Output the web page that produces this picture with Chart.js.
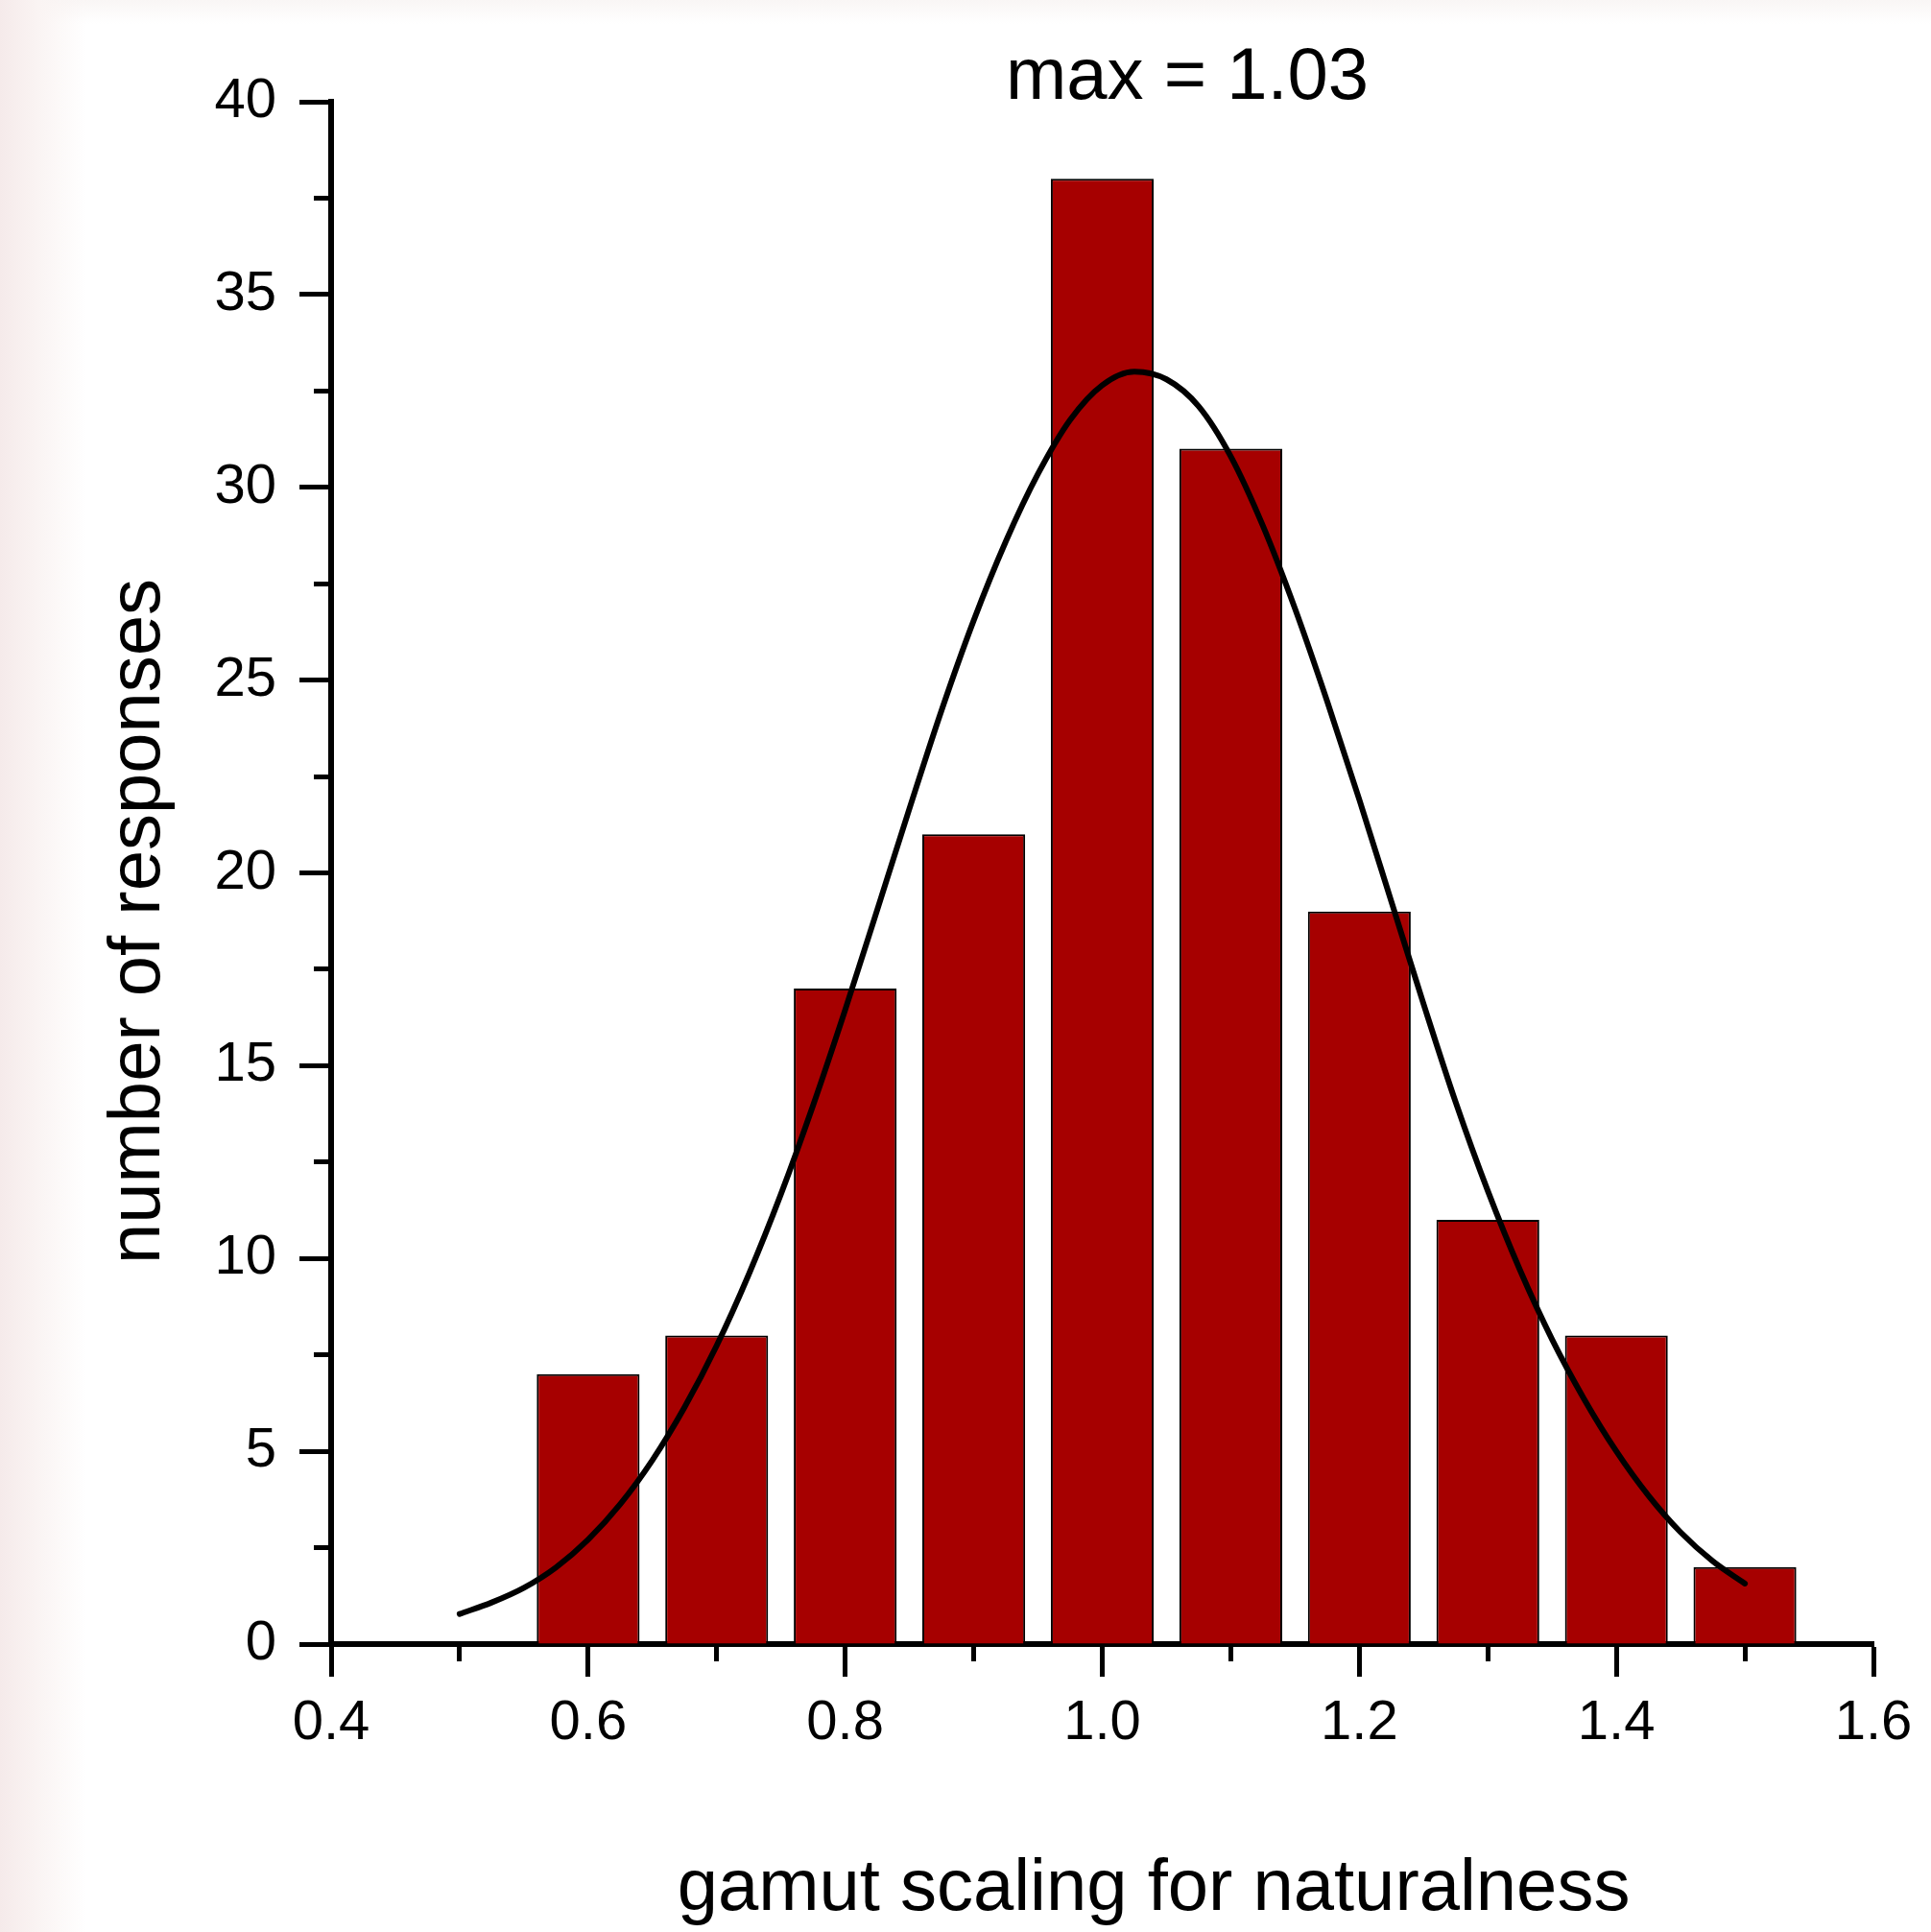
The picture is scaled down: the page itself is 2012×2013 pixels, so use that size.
<!DOCTYPE html>
<html>
<head>
<meta charset="utf-8">
<script src="https://cdn.jsdelivr.net/npm/chart.js@4.4.1/dist/chart.umd.min.js"></script>
<style>
    html, body { margin: 0; padding: 0; }
    body {
        width: 2012px;
        height: 2013px;
        background:
            linear-gradient(to right, #f5eaea 0px, #faf4f3 40px, rgba(255,255,255,0) 90px),
            linear-gradient(to bottom, #f9f6f5 0px, #ffffff 25px);
    }
    canvas { display: block; }
</style>
</head>
<body>
<canvas id="histograma" width="2012" height="2013"></canvas>
<script>
// histogram bins (centre of each bin) and counts
const centrosClasse = [0.6, 0.7, 0.8, 0.9, 1.0, 1.1, 1.2, 1.3, 1.4, 1.5];
const respostas = [7, 8, 17, 21, 38, 31, 19, 11, 8, 2];

// fitted curve, every 0.025
const curvaX = [0.500, 0.525, 0.550, 0.575, 0.600, 0.625, 0.650, 0.675, 0.700, 0.725,
                0.750, 0.775, 0.800, 0.825, 0.850, 0.875, 0.900, 0.925, 0.950, 0.975,
                1.000, 1.025, 1.050, 1.075, 1.100, 1.125, 1.150, 1.175, 1.200, 1.225,
                1.250, 1.275, 1.300, 1.325, 1.350, 1.375, 1.400, 1.425, 1.450, 1.475, 1.500];
const curvaY = [0.78, 1.08, 1.46, 1.99, 2.71, 3.63, 4.77, 6.14, 7.74, 9.59,
                11.67, 13.97, 16.45, 19.05, 21.67, 24.22, 26.55, 28.6, 30.35, 31.75,
                32.65, 33.0, 32.8, 32.1, 30.8, 29.0, 26.85, 24.45, 21.9, 19.25,
                16.6, 14.05, 11.75, 9.7, 7.9, 6.35, 5.0, 3.85, 2.9, 2.15, 1.57];

// axis ranges / ticks
const eixoX = { min: 0.4, max: 1.6, passo: 0.1 };
const eixoY = { min: 0, max: 40, passo: 2.5 };

const tituloTopo = 'max = 1.03';
const tituloX = 'gamut scaling for naturalness';
const tituloY = 'number of responses';

const fonte = '"Liberation Sans", Arial, Helvetica, sans-serif';

const textosPlugin = {
    id: 'textos',
    afterDraw(chart) {
        const ctx = chart.ctx;
        ctx.save();
        ctx.fillStyle = '#000';
        ctx.font = '76px ' + fonte;
        ctx.textAlign = 'center';
        ctx.textBaseline = 'alphabetic';
        ctx.fillText(tituloTopo, 1237, 103);
        ctx.fillText(tituloX, 1202, 1990);
        ctx.translate(166, 960);
        ctx.rotate(-Math.PI / 2);
        ctx.fillText(tituloY, 0, 0);
        ctx.restore();
    }
};

const dadosBarras = centrosClasse.map((x, i) => ({ x: x, y: respostas[i] }));
const dadosCurva = curvaX.map((x, i) => ({ x: x, y: curvaY[i] }));

const config = {
    type: 'bar',
    data: {
        datasets: [{
            type: 'bar',
            label: 'respostas',
            data: dadosBarras,
            backgroundColor: '#a60000',
            borderColor: '#000000',
            borderWidth: 2,
            barPercentage: 1,
            categoryPercentage: 0.8,
            order: 2
        }, {
            type: 'line',
            label: 'ajuste',
            data: dadosCurva,
            borderColor: '#000000',
            borderWidth: 6,
            pointRadius: 0,
            fill: false,
            cubicInterpolationMode: 'monotone',
            borderCapStyle: 'round',
            borderJoinStyle: 'round',
            order: 1
        }]
    },
    options: {
        responsive: false,
        animation: false,
        layout: {
            padding: { left: 0, right: 60, top: 106, bottom: 0 }
        },
        plugins: {
            legend: { display: false },
            title: { display: false },
            tooltip: { enabled: false }
        },
        scales: {
            x: {
                type: 'linear',
                offset: false,
                min: eixoX.min,
                max: eixoX.max,
                afterFit: (escala) => { escala.height = 300; },
                border: { display: true, color: '#000', width: 6 },
                grid: {
                    drawOnChartArea: false,
                    drawTicks: true,
                    tickLength: 34,
                    tickWidth: 5,
                    tickColor: '#000',
                    offset: false,
                    tickBorderDash: (c) => (c.index % 2 ? [15, 1000] : [])
                },
                ticks: {
                    stepSize: eixoX.passo,
                    autoSkip: false,
                    maxRotation: 0,
                    padding: 14,
                    color: '#000',
                    font: { family: fonte, size: 58 },
                    callback: (valor, i) => (i % 2 ? '' : valor.toFixed(1))
                }
            },
            y: {
                min: eixoY.min,
                max: eixoY.max,
                afterFit: (escala) => { escala.width = 345; },
                border: { display: true, color: '#000', width: 6 },
                grid: {
                    drawOnChartArea: false,
                    drawTicks: true,
                    tickLength: 33,
                    tickWidth: 5,
                    tickColor: '#000',
                    tickBorderDash: (c) => (c.index % 2 ? [0, 15, 30, 1000] : [])
                },
                ticks: {
                    stepSize: eixoY.passo,
                    autoSkip: false,
                    padding: 24,
                    color: '#000',
                    font: { family: fonte, size: 58 },
                    callback: (valor, i) => (i % 2 ? '' : String(valor))
                }
            }
        }
    },
    plugins: [textosPlugin]
};

const ctx = document.getElementById('histograma').getContext('2d');
new Chart(ctx, config);
</script>
</body>
</html>
